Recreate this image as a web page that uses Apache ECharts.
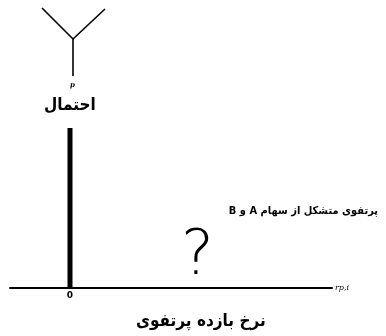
<!DOCTYPE html>
<html>
<head>
<meta charset="utf-8">
<script src="https://cdn.jsdelivr.net/npm/echarts@6/dist/echarts.min.js"></script>
<style>
  html, body { margin: 0; padding: 0; background: #fff; }
  #chart { width: 386px; height: 336px; }
</style>
</head>
<body>
<div id="chart"></div>
<script>
// Probability spike of the return at zero
const spikeReturn = [0];
const spikeProb = [16];

// Forked top of the probability axis (return, height)
const forkArmsX = [-1.4, 0.15, 1.75];
const forkArmsY = [28, 24.9, 27.9];
const forkStemX = [0.15, 0.15];
const forkStemY = [24.9, 21.2];

// Labels
const xTickLabels = ['0'];
const xAxisName = 'rp,i';
const yAxisTitle = 'احتمال';
const xAxisTitle = 'نرخ بازده پرتفوی';
const portfolioNote = '\u202Bپرتفوی متشکل از سهام A و B\u202C';
const unknownMark = '?';
const probSymbol = 'p';

const persianFont = '"DejaVu Sans", sans-serif';
const persianCondensed = '"DejaVu Sans Condensed", "DejaVu Sans", sans-serif';

const chart = echarts.init(document.getElementById('chart'), null, { renderer: 'canvas' });

const zip = (xs, ys) => xs.map((x, i) => [x, ys[i]]);

chart.setOption({
  backgroundColor: '#ffffff',
  animation: false,
  grid: { left: 10, right: 54, top: 8, bottom: 48, containLabel: false },
  xAxis: {
    type: 'value',
    min: -3,
    max: 13.1,
    interval: 3,
    splitLine: { show: false },
    axisLine: { show: true, lineStyle: { color: '#000', width: 2 } },
    axisTick: { show: false },
    axisLabel: {
      color: '#000',
      fontSize: 9,
      fontWeight: 'bold',
      margin: 3,
      fontFamily: persianFont,
      formatter: v => (xTickLabels.includes(String(v)) ? String(v) : '')
    },
    name: xAxisName,
    nameLocation: 'end',
    nameGap: 3,
    nameTextStyle: { color: '#000', fontSize: 8, fontStyle: 'italic', fontFamily: '"DejaVu Serif", serif', verticalAlign: 'middle' }
  },
  yAxis: {
    type: 'value',
    min: 0,
    max: 28,
    show: false
  },
  series: [
    {
      type: 'bar',
      data: zip(spikeReturn, spikeProb),
      barWidth: 5,
      itemStyle: { color: '#000' },
      z: 3
    },
    {
      type: 'line',
      data: zip(forkArmsX, forkArmsY),
      symbol: 'none',
      lineStyle: { color: '#000', width: 1.6 },
      clip: false
    },
    {
      type: 'line',
      data: zip(forkStemX, forkStemY),
      symbol: 'none',
      lineStyle: { color: '#000', width: 1.6 },
      clip: false
    }
  ],
  graphic: [
    {
      type: 'text', left: 70, top: 82,
      style: { text: probSymbol, fill: '#000', font: 'italic bold 7px "DejaVu Serif", serif' }
    },
    {
      type: 'text', left: 44, top: 97,
      style: { text: yAxisTitle, fill: '#000', font: 'bold 17px ' + persianCondensed }
    },
    {
      type: 'text', right: 8, top: 206,
      style: { text: portfolioNote, fill: '#000', font: 'bold 11px ' + persianCondensed }
    },
    {
      type: 'text', left: 181, top: 227,
      style: { text: unknownMark, fill: '#000', font: '200 62px "DejaVu Sans", sans-serif' }
    },
    {
      type: 'text', left: 136, top: 313,
      style: { text: xAxisTitle, fill: '#000', font: 'bold 17px ' + persianCondensed }
    }
  ]
});
</script>
</body>
</html>
